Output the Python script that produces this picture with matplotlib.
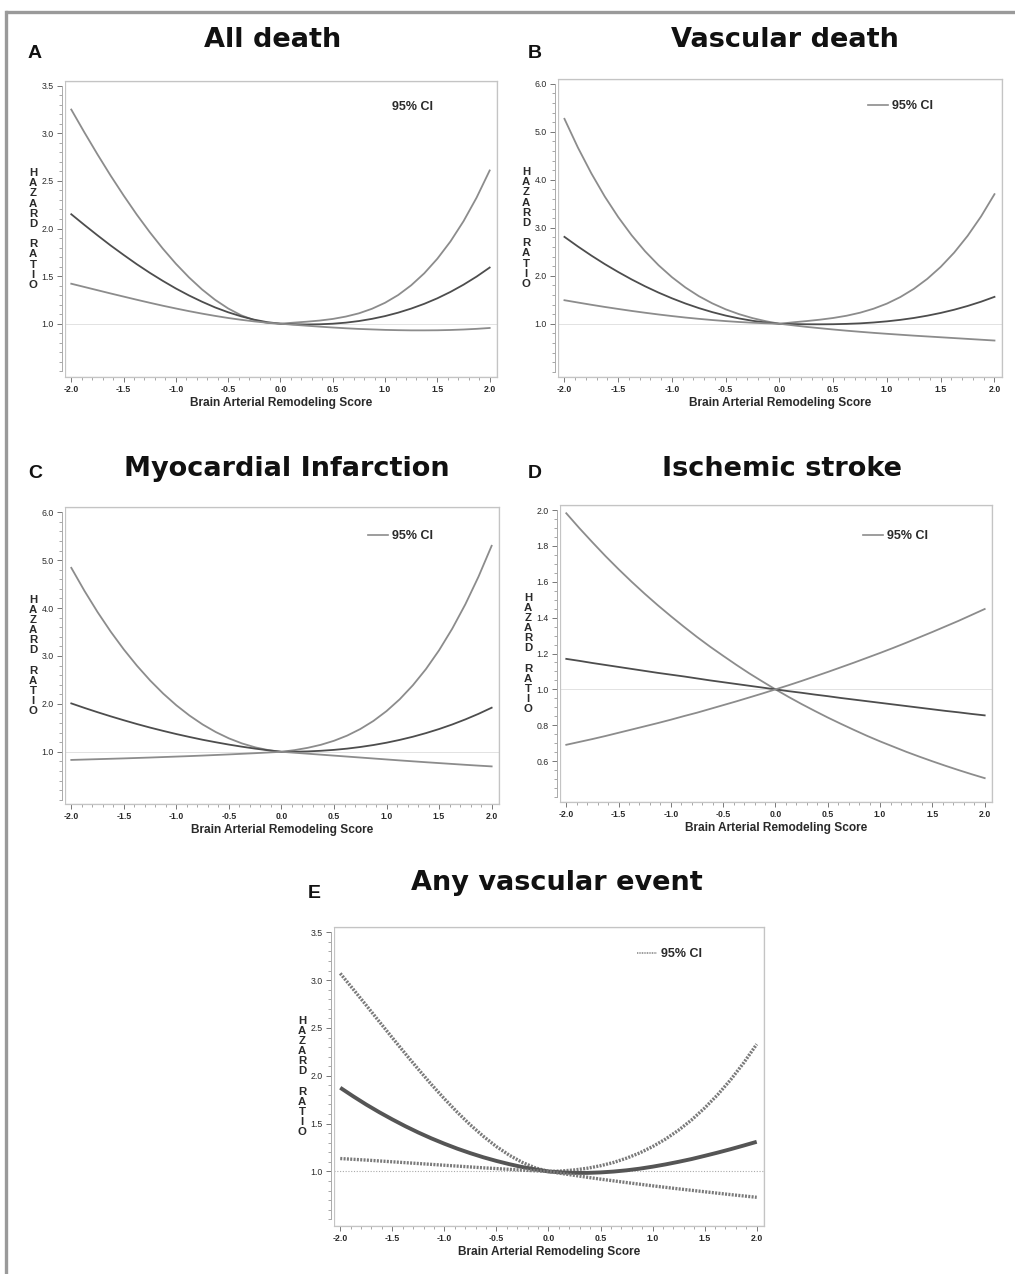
import matplotlib
matplotlib.use("Agg")
import matplotlib.pyplot as plt
from matplotlib.lines import Line2D
from matplotlib.ticker import FixedLocator, FormatStrFormatter
import numpy as np

plt.rcParams['axes.unicode_minus'] = False

# x positions the curves were read at (step 0.125)
score = [-2.0, -1.875, -1.75, -1.625, -1.5, -1.375, -1.25, -1.125, -1.0,
         -0.875, -0.75, -0.625, -0.5, -0.375, -0.25, -0.125, 0.0,
         0.125, 0.25, 0.375, 0.5, 0.625, 0.75, 0.875, 1.0,
         1.125, 1.25, 1.375, 1.5, 1.625, 1.75, 1.875, 2.0]

# A - All death
a_upper = [3.250, 3.011, 2.780, 2.558, 2.348, 2.148, 1.962, 1.789, 1.630, 1.487, 1.360,
           1.251, 1.160, 1.088, 1.037, 1.008, 1.0, 1.011, 1.021, 1.033, 1.050, 1.075,
           1.109, 1.157, 1.220, 1.301, 1.404, 1.530, 1.683, 1.864, 2.077, 2.325, 2.610]
a_est = [2.150, 2.038, 1.929, 1.823, 1.723, 1.626, 1.535, 1.450, 1.370, 1.297, 1.231,
         1.171, 1.120, 1.077, 1.042, 1.016, 1.0, 0.994, 0.992, 0.994, 1.000, 1.011,
         1.028, 1.051, 1.080, 1.116, 1.159, 1.209, 1.267, 1.334, 1.410, 1.495, 1.590]
a_lower = [1.420, 1.386, 1.352, 1.318, 1.285, 1.252, 1.220, 1.189, 1.160, 1.132, 1.106,
           1.082, 1.060, 1.041, 1.024, 1.010, 1.0, 0.989, 0.979, 0.969, 0.960, 0.952,
           0.945, 0.940, 0.935, 0.932, 0.930, 0.930, 0.931, 0.934, 0.939, 0.946, 0.955]

# B - Vascular death
b_upper = [5.270, 4.672, 4.134, 3.651, 3.223, 2.843, 2.510, 2.220, 1.970, 1.756, 1.575,
           1.425, 1.300, 1.199, 1.117, 1.052, 1.0, 1.029, 1.055, 1.084, 1.120, 1.167,
           1.230, 1.313, 1.420, 1.557, 1.727, 1.935, 2.185, 2.482, 2.831, 3.235, 3.700]
b_est = [2.810, 2.610, 2.421, 2.243, 2.078, 1.923, 1.780, 1.649, 1.530, 1.422, 1.326,
         1.242, 1.170, 1.110, 1.061, 1.025, 1.0, 0.993, 0.989, 0.988, 0.990, 0.997,
         1.008, 1.026, 1.050, 1.081, 1.120, 1.168, 1.225, 1.292, 1.370, 1.459, 1.560]
b_lower = [1.490, 1.442, 1.395, 1.350, 1.308, 1.267, 1.229, 1.193, 1.160, 1.129, 1.102,
           1.077, 1.055, 1.036, 1.021, 1.009, 1.0, 0.967, 0.935, 0.907, 0.880, 0.855,
           0.832, 0.810, 0.790, 0.771, 0.752, 0.735, 0.718, 0.701, 0.684, 0.667, 0.650]

# C - Myocardial Infarction
c_upper = [4.840, 4.360, 3.916, 3.508, 3.135, 2.796, 2.489, 2.214, 1.970, 1.756, 1.570,
           1.412, 1.280, 1.174, 1.093, 1.035, 1.0, 1.035, 1.083, 1.146, 1.230, 1.338,
           1.475, 1.644, 1.850, 2.096, 2.388, 2.727, 3.120, 3.570, 4.080, 4.656, 5.300]
c_est = [2.010, 1.916, 1.826, 1.740, 1.658, 1.579, 1.505, 1.436, 1.370, 1.309, 1.251,
         1.199, 1.150, 1.106, 1.066, 1.031, 1.0, 1.001, 1.008, 1.021, 1.040, 1.066,
         1.100, 1.141, 1.190, 1.248, 1.314, 1.390, 1.475, 1.570, 1.676, 1.792, 1.920]
c_lower = [0.830, 0.838, 0.846, 0.854, 0.862, 0.871, 0.880, 0.890, 0.900, 0.910, 0.921,
           0.933, 0.945, 0.958, 0.971, 0.985, 1.0, 0.980, 0.960, 0.940, 0.920, 0.900,
           0.880, 0.860, 0.840, 0.820, 0.801, 0.782, 0.764, 0.746, 0.728, 0.711, 0.695]

# D - Ischemic stroke
d_ci_down = [1.982, 1.899, 1.820, 1.743, 1.670, 1.600, 1.533, 1.469, 1.408, 1.349, 1.292,
             1.238, 1.187, 1.137, 1.089, 1.044, 1.0, 0.958, 0.918, 0.880, 0.843, 0.808,
             0.774, 0.741, 0.710, 0.681, 0.652, 0.625, 0.599, 0.574, 0.550, 0.527, 0.505]
d_est = [1.170, 1.159, 1.147, 1.136, 1.125, 1.114, 1.103, 1.092, 1.082, 1.072, 1.061,
         1.050, 1.040, 1.030, 1.020, 1.010, 1.0, 0.990, 0.981, 0.971, 0.962, 0.952,
         0.943, 0.934, 0.925, 0.916, 0.907, 0.898, 0.889, 0.880, 0.872, 0.863, 0.855]
d_ci_up = [0.691, 0.707, 0.723, 0.740, 0.758, 0.776, 0.794, 0.812, 0.831, 0.851, 0.870,
           0.891, 0.912, 0.933, 0.955, 0.977, 1.0, 1.023, 1.047, 1.072, 1.097, 1.123,
           1.149, 1.176, 1.203, 1.231, 1.260, 1.290, 1.320, 1.351, 1.382, 1.415, 1.448]

# E - Any vascular event
e_upper = [3.070, 2.904, 2.736, 2.566, 2.398, 2.231, 2.068, 1.910, 1.760, 1.618, 1.486,
           1.367, 1.260, 1.169, 1.094, 1.037, 1.0, 1.005, 1.016, 1.034, 1.060, 1.094,
           1.139, 1.193, 1.260, 1.339, 1.432, 1.539, 1.663, 1.802, 1.959, 2.135, 2.330]
e_est = [1.875, 1.785, 1.699, 1.619, 1.544, 1.473, 1.407, 1.346, 1.290, 1.238, 1.191,
         1.148, 1.110, 1.076, 1.046, 1.021, 1.0, 0.990, 0.985, 0.985, 0.990, 0.999,
         1.012, 1.029, 1.050, 1.074, 1.101, 1.130, 1.163, 1.197, 1.233, 1.271, 1.310]
e_lower = [1.135, 1.127, 1.119, 1.110, 1.101, 1.092, 1.083, 1.074, 1.065, 1.056, 1.047,
           1.038, 1.030, 1.022, 1.014, 1.007, 1.0, 0.979, 0.959, 0.939, 0.920, 0.902,
           0.884, 0.867, 0.850, 0.834, 0.818, 0.803, 0.788, 0.773, 0.758, 0.744, 0.730]

W, H = 1015, 1274
fig = plt.figure(figsize=(W / 100, H / 100), dpi=100)
plt.rcParams['font.family'] = ['Liberation Sans', 'DejaVu Sans']

CI_COL = '#8c8c8c'
EST_COL = '#4d4d4d'
FRAME_COL = '#c4c4c4'
TXT_COL = '#2a2a2a'


def px_axes(left, top, right, bottom):
    return fig.add_axes([left / W, 1 - bottom / H, (right - left) / W, (bottom - top) / H])


def panel(box, title, letter, title_xy, letter_xy, curves, ylim, yticks, yminor,
          legend_xy, legend_line=True, style_e=False):
    ax = px_axes(*box)
    for vals, kind in curves:
        if style_e:
            if kind == 'est':
                ax.plot(score, vals, color='#555555', lw=2.8, solid_capstyle='butt')
            else:
                ax.plot(score, vals, color='#7a7a7a', lw=2.4, ls=(0, (0.6, 0.4)))
        else:
            ax.plot(score, vals, color=EST_COL if kind == 'est' else CI_COL, lw=1.3)
    if style_e:
        ax.axhline(1.0, color='#aaaaaa', lw=0.8, ls=(0, (1, 1.5)), zorder=0)
    else:
        ax.axhline(1.0, color='#e2e2e2', lw=0.7, zorder=0)

    ax.set_xlim(-2.06, 2.07)
    ax.set_ylim(*ylim)
    ax.xaxis.set_major_locator(FixedLocator(np.arange(-2.0, 2.01, 0.5)))
    ax.xaxis.set_minor_locator(FixedLocator(np.arange(-2.0, 2.01, 0.1)))
    ax.yaxis.set_major_locator(FixedLocator(yticks))
    ax.yaxis.set_minor_locator(FixedLocator(yminor))
    ax.xaxis.set_major_formatter(FormatStrFormatter('%.1f'))
    ax.yaxis.set_major_formatter(FormatStrFormatter('%.1f'))
    ax.tick_params(which='major', length=3.5, width=0.7, color='#777777', pad=2.5,
                   labelsize=6.3, labelcolor=TXT_COL)
    ax.tick_params(which='minor', length=2, width=0.6, color='#999999')
    for lab in ax.get_xticklabels() + ax.get_yticklabels():
        lab.set_fontweight('bold')

    for s in ['top', 'right', 'bottom']:
        ax.spines[s].set_color(FRAME_COL)
        ax.spines[s].set_linewidth(0.9)
    ax.spines['left'].set_color('#aaaaaa')
    ax.spines['left'].set_linewidth(0.7)
    ax.spines['left'].set_position(('outward', 2))
    ax.spines['left'].set_bounds(min(yminor), max(yticks))
    ax.add_patch(plt.Rectangle((0, 0), 1, 1, transform=ax.transAxes, fill=False,
                               ec=FRAME_COL, lw=0.9, zorder=5))

    ax.annotate('Brain Arterial Remodeling Score', xy=(0.5, 0), xycoords='axes fraction',
                xytext=(0, -19), textcoords='offset points', ha='center', va='center',
                fontsize=8.6, fontweight='bold', color=TXT_COL)
    ax.annotate('H\nA\nZ\nA\nR\nD\n\nR\nA\nT\nI\nO', xy=(0, 0.5), xycoords='axes fraction',
                xytext=(-23, 0), textcoords='offset points', ha='center', va='center',
                fontsize=8.2, fontweight='bold', color=TXT_COL, linespacing=1.02,
                multialignment='center')

    lx = (legend_xy[0] - box[0]) / (box[2] - box[0])
    ly = (box[3] - legend_xy[1]) / (box[3] - box[1])
    if legend_line:
        handle = Line2D([], [], color=CI_COL, lw=1.2, ls=(0, (0.6, 0.4)) if style_e else '-')
        leg = ax.legend([handle], ['95% CI'], loc='center left', bbox_to_anchor=(lx, ly),
                        frameon=False, borderpad=0, borderaxespad=0, handlelength=1.6,
                        handletextpad=0.3, prop={'weight': 'bold', 'size': 9})
        for t in leg.get_texts():
            t.set_color(TXT_COL)
    else:
        ax.text(lx, ly, '95% CI', transform=ax.transAxes, ha='left', va='center',
                fontsize=9, fontweight='bold', color=TXT_COL)

    fig.text(title_xy[0] / W, 1 - title_xy[1] / H, title, ha='center', va='center',
             fontsize=19.5, fontweight='heavy', family='DejaVu Sans', color='#111111')
    fig.text(letter_xy[0] / W, 1 - letter_xy[1] / H, letter, ha='left', va='center',
             fontsize=14, fontweight='bold', family='Liberation Sans', color='#111111')
    return ax


yt_a = [1.0, 1.5, 2.0, 2.5, 3.0, 3.5]
ym_a = list(np.round(np.arange(0.5, 3.51, 0.1), 2))
yt_b = [1.0, 2.0, 3.0, 4.0, 5.0, 6.0]
ym_b = list(np.round(np.arange(0.0, 6.01, 0.2), 2))
yt_d = [0.6, 0.8, 1.0, 1.2, 1.4, 1.6, 1.8, 2.0]
ym_d = list(np.round(np.arange(0.4, 2.001, 0.05), 3))

panel((65, 81, 497, 377), 'All death', 'A', (273, 40), (28, 53),
      [(a_upper, 'ci'), (a_est, 'est'), (a_lower, 'ci')],
      (0.44, 3.55), yt_a, ym_a, (392, 107), legend_line=False)
panel((558, 79, 1002, 377), 'Vascular death', 'B', (785, 40), (528, 53),
      [(b_upper, 'ci'), (b_est, 'est'), (b_lower, 'ci')],
      (-0.11, 6.1), yt_b, ym_b, (868, 106))
panel((65, 507, 499, 804), 'Myocardial Infarction', 'C', (287, 469), (28, 473),
      [(c_upper, 'ci'), (c_est, 'est'), (c_lower, 'ci')],
      (-0.09, 6.11), yt_b, ym_b, (368, 536))
panel((560, 505, 992, 802), 'Ischemic stroke', 'D', (782, 469), (528, 473),
      [(d_ci_down, 'ci'), (d_est, 'est'), (d_ci_up, 'ci')],
      (0.372, 2.028), yt_d, ym_d, (863, 536))
panel((334, 927, 764, 1226), 'Any vascular event', 'E', (557, 883), (308, 893),
      [(e_upper, 'ci'), (e_est, 'est'), (e_lower, 'ci')],
      (0.43, 3.555), yt_a, ym_a, (637, 954), style_e=True)

# outer frame lines (top and left)
fig.add_artist(Line2D([7 / W, 1.0], [1 - 12 / H, 1 - 12 / H], transform=fig.transFigure,
                      color='#9a9a9a', lw=2.4))
fig.add_artist(Line2D([6 / W, 6 / W], [0.0, 1 - 12 / H], transform=fig.transFigure,
                      color='#9a9a9a', lw=2.4))

fig.savefig('out.png', dpi=100, facecolor='white')
